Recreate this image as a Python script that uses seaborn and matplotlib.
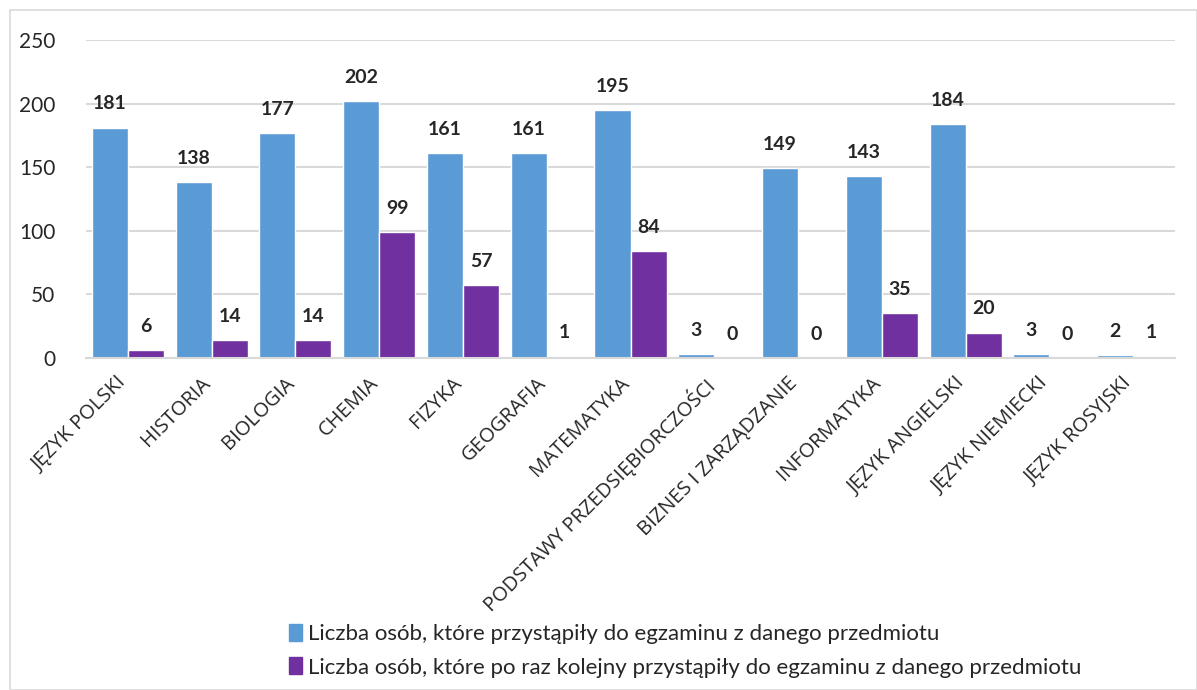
import numpy as np
import pandas as pd
import matplotlib.pyplot as plt
import matplotlib.transforms as mtransforms
import seaborn as sns
from matplotlib.patches import Rectangle

subjects = ['JĘZYK POLSKI', 'HISTORIA', 'BIOLOGIA', 'CHEMIA', 'FIZYKA', 'GEOGRAFIA',
            'MATEMATYKA', 'PODSTAWY PRZEDSIĘBIORCZOŚCI', 'BIZNES I ZARZĄDZANIE',
            'INFORMATYKA', 'JĘZYK ANGIELSKI', 'JĘZYK NIEMIECKI', 'JĘZYK ROSYJSKI']
total = [181, 138, 177, 202, 161, 161, 195, 3, 149, 143, 184, 3, 2]
repeat = [6, 14, 14, 99, 57, 1, 84, 0, 0, 35, 20, 0, 1]
series = ['Liczba osób, które przystąpiły do egzaminu z danego przedmiotu',
          'Liczba osób, które po raz kolejny przystąpiły do egzaminu z danego przedmiotu']
colors = ['#5B9BD5', '#7030A0']

df = pd.DataFrame({
    'subject': subjects * 2,
    'value': total + repeat,
    'series': [series[0]] * len(subjects) + [series[1]] * len(subjects),
})

sns.set_style('white')
plt.rcParams['font.family'] = ['Lato', 'DejaVu Sans']

fig = plt.figure(figsize=(11.97, 6.9), dpi=100)
ax = fig.add_axes([86 / 1197, 1 - 358 / 690, (1175 - 86) / 1197, (358 - 40) / 690])

sns.barplot(data=df, x='subject', y='value', hue='series', palette=colors, saturation=1,
            width=0.86, edgecolor='white', linewidth=1, ax=ax, legend=False)

# data labels
for cont in ax.containers:
    for bar in cont:
        h = bar.get_height()
        ax.annotate(f'{int(h)}', (bar.get_x() + bar.get_width() / 2, h),
                    xytext=(0, 11), textcoords='offset points',
                    ha='center', va='bottom', fontsize=14, fontweight='bold')

ax.set_ylim(0, 250)
ax.set_yticks(range(0, 251, 50))
ax.set_xlim(-0.5, len(subjects) - 0.5)
ax.grid(axis='y', color='#D9D9D9', linewidth=1.5)
ax.set_axisbelow(True)
for s in ['top', 'right', 'left']:
    ax.spines[s].set_visible(False)
ax.spines['bottom'].set_color('#D9D9D9')
ax.spines['bottom'].set_linewidth(1.5)
ax.tick_params(axis='y', labelsize=15, length=0, pad=22)
ax.tick_params(axis='x', length=0, pad=11)
ax.set_xticks(range(len(subjects)))
ax.set_xticklabels(subjects, rotation=45, ha='right', rotation_mode='anchor',
                   fontsize=14.5, fontfamily='Open Sans')
shift = mtransforms.ScaledTranslation(-0.11, 0, fig.dpi_scale_trans)
for lbl in ax.get_xticklabels():
    lbl.set_transform(lbl.get_transform() + shift)
ax.set_xlabel('')
ax.set_ylabel('')

# legend
handles = [plt.Rectangle((0, 0), 1, 1, color=c) for c in colors]
fig.legend(handles, series, loc='upper left', bbox_to_anchor=(280 / 1197, 1 - 615 / 690),
           frameon=False, fontsize=16, handlelength=0.6, handleheight=0.8,
           handletextpad=0.25, labelspacing=0.6, borderaxespad=0)

# outer border
fig.patches.append(Rectangle((10 / 1197, 0), 1 - 10 / 1197, 1 - 10 / 690, transform=fig.transFigure,
                             fill=False, edgecolor='#D9D9D9', linewidth=1.2))

plt.savefig('out.png', dpi=100)
